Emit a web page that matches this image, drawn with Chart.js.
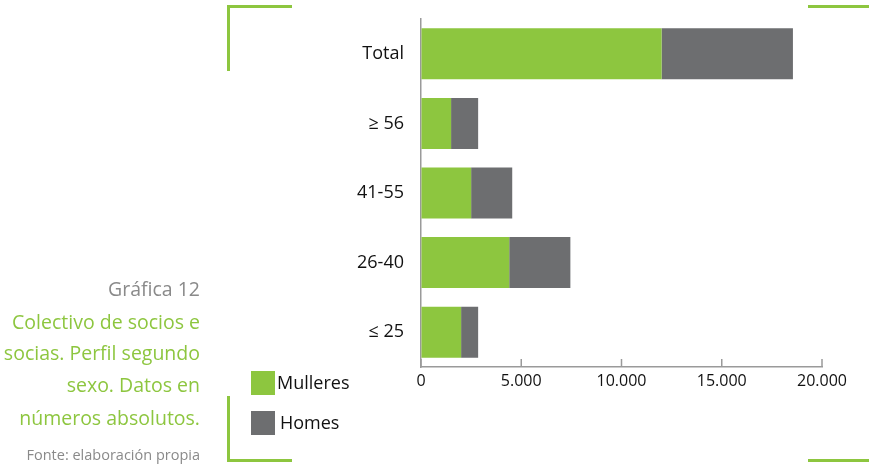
<!DOCTYPE html>
<html>
<head>
<meta charset="utf-8">
<script src="https://cdn.jsdelivr.net/npm/chart.js@4.4.1/dist/chart.umd.min.js"></script>
<style>
  html,body{margin:0;padding:0;background:#fff;}
  body{width:869px;height:466px;position:relative;overflow:hidden;font-family:"Open Sans",sans-serif;}
  #wrap{position:absolute;left:0;top:0;width:869px;height:466px;}
  .deco{position:absolute;background:#8DC63F;}
  .tl{position:absolute;right:669px;white-space:nowrap;text-align:right;line-height:24px;}
  .lg{position:absolute;white-space:nowrap;font-size:18px;color:#111;line-height:24px;}
  .sw{position:absolute;width:24px;height:24px;}
</style>
</head>
<body>
<div id="wrap"><canvas id="c" width="869" height="466"></canvas></div>

<div class="deco" style="left:227px;top:5px;width:3px;height:66px;"></div>
<div class="deco" style="left:227px;top:5px;width:65px;height:3px;"></div>
<div class="deco" style="left:808px;top:5px;width:61px;height:3px;"></div>
<div class="deco" style="left:227px;top:396px;width:3px;height:66px;"></div>
<div class="deco" style="left:227px;top:459px;width:65px;height:3px;"></div>
<div class="deco" style="left:808px;top:459px;width:61px;height:3px;"></div>

<div class="tl" style="top:277px;font-size:19.5px;color:#8a8a8a;">Gráfica 12</div>
<div class="tl" style="top:310px;font-size:19.5px;color:#8DC63F;">Colectivo de socios e</div>
<div class="tl" style="top:341px;font-size:19.5px;color:#8DC63F;">socias. Perfil segundo</div>
<div class="tl" style="top:373px;font-size:19.5px;color:#8DC63F;">sexo. Datos en</div>
<div class="tl" style="top:406px;font-size:19.5px;color:#8DC63F;">números absolutos.</div>
<div class="tl" style="top:443px;font-size:14.5px;color:#8a8a8a;">Fonte: elaboración propia</div>

<div id="legend"></div>

<script>
const categories = ["Total", "\u2265 56", "41-55", "26-40", "\u2264 25"];
const mulleres = [12000, 1500, 2500, 4400, 2000];
const homes = [6550, 1350, 2050, 3050, 850];
const seriesNames = ["Mulleres", "Homes"];
const seriesColors = ["#8DC63F", "#6D6E70"];
const xTicks = [0, 5000, 10000, 15000, 20000];

// HTML legend
const lg = document.getElementById('legend');
const legTops = [371, 411];
const legTextLeft = [277, 280];
seriesNames.forEach((n, i) => {
  const s = document.createElement('div');
  s.className = 'sw';
  s.style.left = '251px'; s.style.top = legTops[i] + 'px'; s.style.background = seriesColors[i];
  lg.appendChild(s);
  const t = document.createElement('div');
  t.className = 'lg';
  t.style.left = legTextLeft[i] + 'px'; t.style.top = (legTops[i] - 1) + 'px';
  t.textContent = n;
  lg.appendChild(t);
});

const fmt = v => String(v).replace(/\B(?=(\d{3})+(?!\d))/g, '.');

const innerTicks = {
  id: 'innerTicks',
  afterDraw(chart) {
    const x = chart.scales.x, ctx = chart.ctx, b = chart.chartArea.bottom;
    ctx.save();
    ctx.strokeStyle = '#9a9a9a';
    ctx.lineWidth = 1.5;
    xTicks.forEach(v => {
      const px = x.getPixelForValue(v);
      ctx.beginPath();
      ctx.moveTo(px, b);
      ctx.lineTo(px, b - 8);
      ctx.stroke();
    });
    ctx.restore();
  }
};

new Chart(document.getElementById('c'), {
  type: 'bar',
  data: {
    labels: categories,
    datasets: [
      { label: seriesNames[0], data: mulleres, backgroundColor: seriesColors[0], borderWidth: 0 },
      { label: seriesNames[1], data: homes, backgroundColor: seriesColors[1], borderWidth: 0 }
    ]
  },
  options: {
    indexAxis: 'y',
    responsive: false,
    animation: false,
    maintainAspectRatio: false,
    layout: { padding: { left: 0, right: 47, top: 19, bottom: 0 } },
    datasets: { bar: { barPercentage: 0.733, categoryPercentage: 1 } },
    plugins: { legend: { display: false }, tooltip: { enabled: false } },
    scales: {
      x: {
        stacked: true, min: 0, max: 20000,
        afterFit(s) { s.height = 99; s.paddingLeft = 0; s.paddingRight = 0; },
        afterBuildTicks(s) { s.ticks = xTicks.map(v => ({ value: v })); },
        grid: { display: true, drawOnChartArea: false, drawTicks: false },
        border: { display: true, color: '#9a9a9a', width: 1.5 },
        ticks: { padding: 5, color: '#111', font: { family: 'Open Sans', size: 16 }, callback: v => fmt(v), maxRotation: 0 }
      },
      y: {
        stacked: true,
        afterFit(s) { s.width = 421; s.paddingTop = 0; s.paddingBottom = 0; },
        grid: { display: false, drawTicks: false },
        border: { display: true, color: '#9a9a9a', width: 1.5 },
        ticks: { padding: 17, color: '#111', font: { family: 'Open Sans', size: 18 } }
      }
    }
  },
  plugins: [innerTicks]
});
</script>
</body>
</html>
